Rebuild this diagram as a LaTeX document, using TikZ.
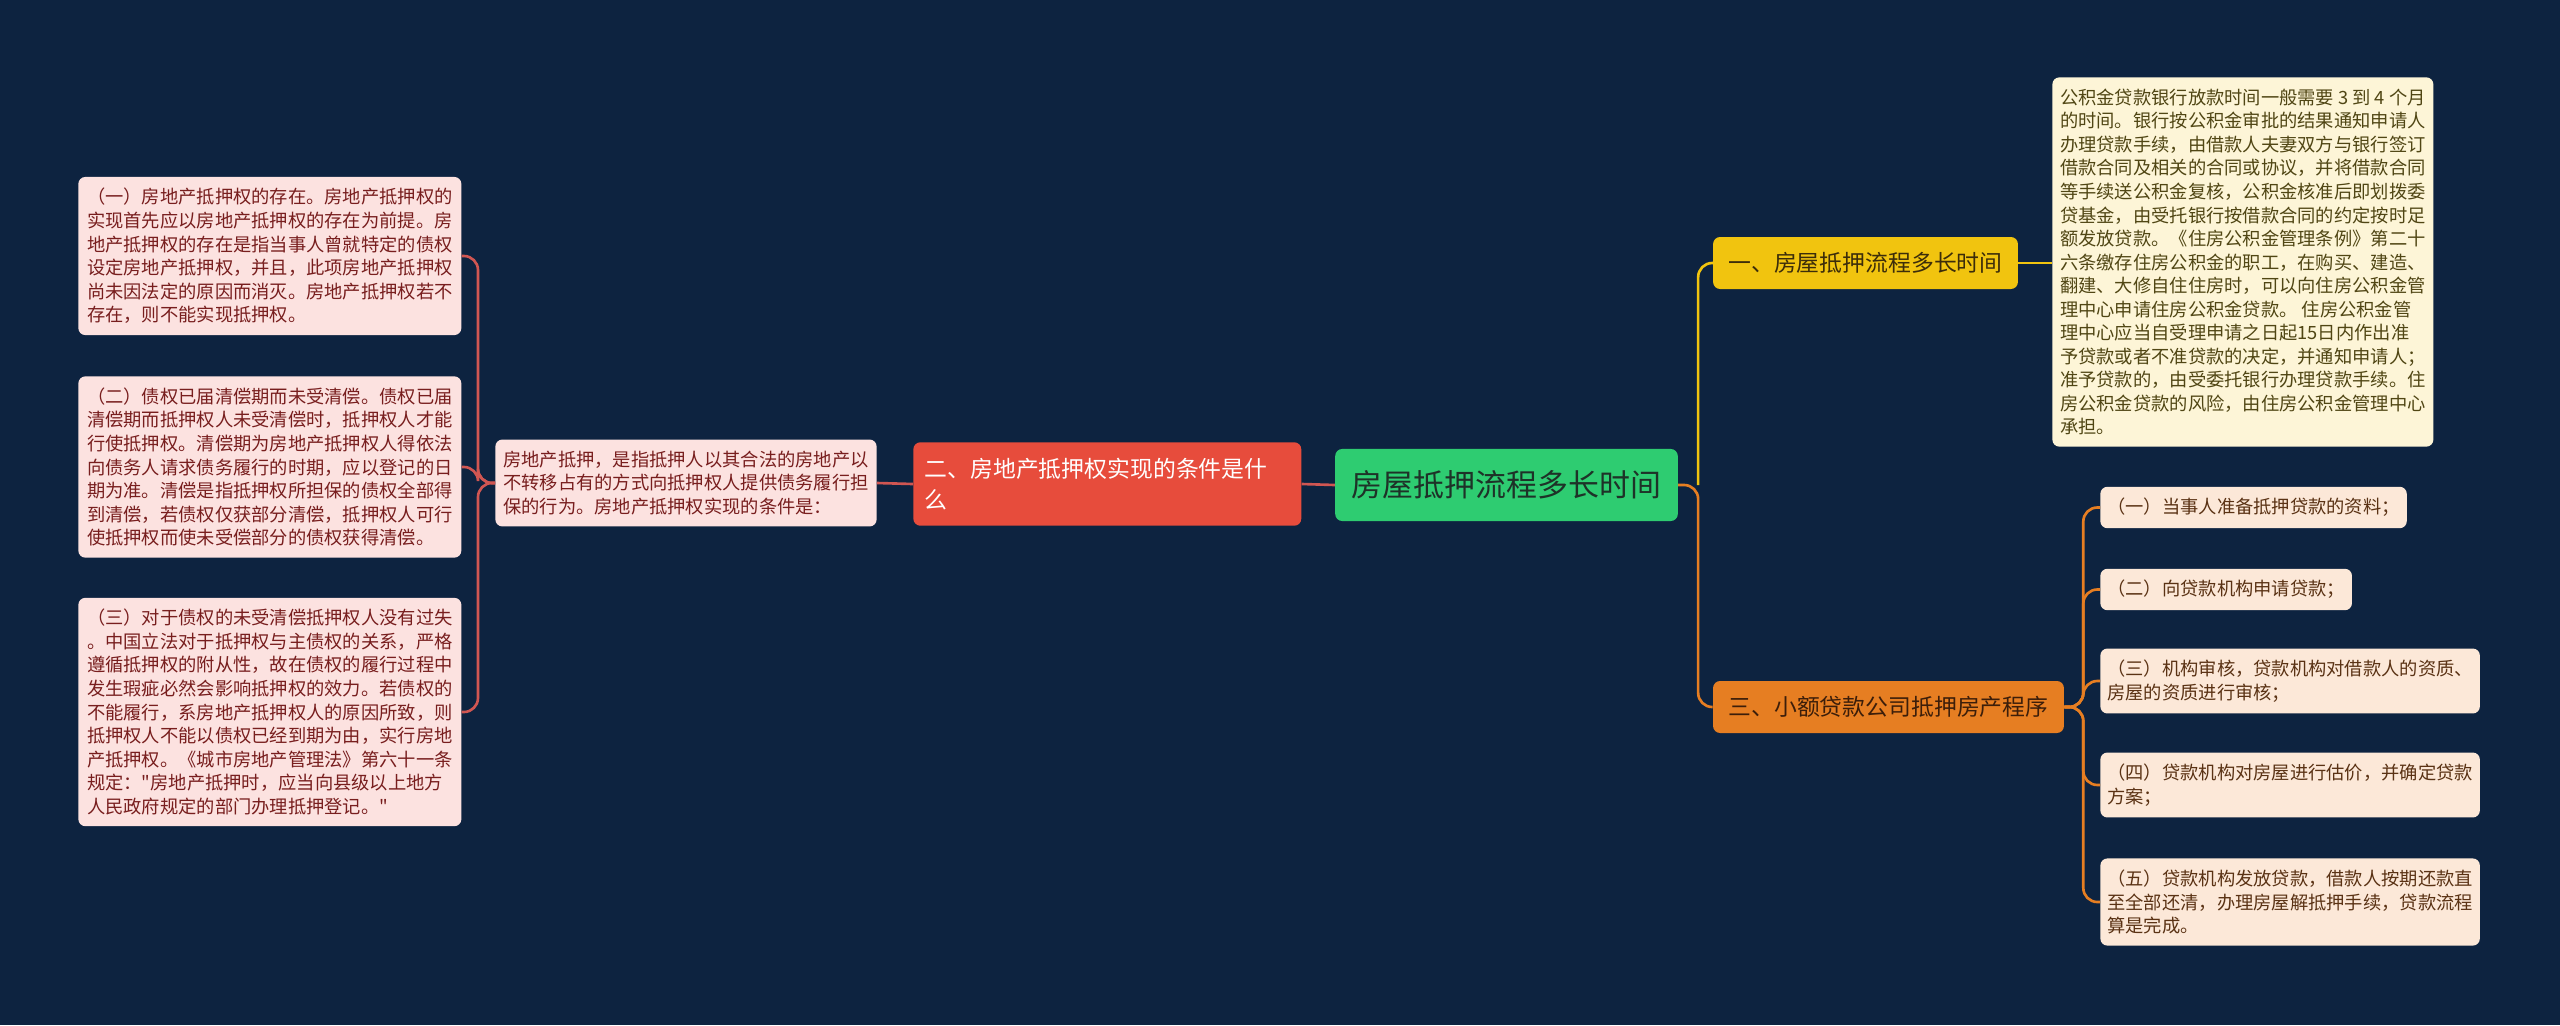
\documentclass[tikz,border=0pt]{standalone}
\usepackage{fontspec}
\setmainfont{Noto Sans CJK SC}[Ligatures=TeXOff]
\usetikzlibrary{positioning}

\definecolor{bgnavy}{RGB}{13,35,64}
\definecolor{rootgreen}{RGB}{46,204,113}
\definecolor{branchred}{RGB}{231,76,60}
\definecolor{linkred}{RGB}{208,86,82}
\definecolor{branchyellow}{RGB}{241,196,15}
\definecolor{branchorange}{RGB}{230,126,34}
\definecolor{pinkfill}{RGB}{252,226,224}
\definecolor{pinktext}{RGB}{120,30,30}
\definecolor{creamfill}{RGB}{253,245,215}
\definecolor{creamtext}{RGB}{80,70,20}
\definecolor{peachfill}{RGB}{252,232,216}
\definecolor{peachtext}{RGB}{90,50,20}

\begin{document}
\begin{tikzpicture}[x=0.02cm,y=-0.02cm,
  leaf/.style={rounded corners=4pt,align=left,anchor=west,inner xsep=5pt,inner ysep=6.5pt,
    font=\fontsize{10.4}{13.4}\selectfont},
  pinkleaf/.style={leaf,fill=pinkfill,text=pinktext},
  creamleaf/.style={leaf,fill=creamfill,text=creamtext,inner xsep=4.4pt},
  peachleaf/.style={leaf,fill=peachfill,text=peachtext,inner xsep=4pt},
  branch/.style={rounded corners=4pt,font=\fontsize{13}{17.6}\selectfont,align=left},
  redline/.style={draw=linkred,line width=1.5pt,rounded corners=8pt},
  yellowline/.style={draw=branchyellow,line width=1.5pt,rounded corners=8pt},
  orangeline/.style={draw=branchorange,line width=1.5pt,rounded corners=8pt}]
\fill[bgnavy] (0,0) rectangle (2560,1025);
\useasboundingbox (0,0) rectangle (2560,1025);

% root
\node[rounded corners=4pt,fill=rootgreen,text={rgb,255:red,30;green,50;blue,40},
  minimum width=195pt,minimum height=41pt,inner sep=0pt,
  font=\fontsize{17.6}{20}\selectfont] (root) at (1506.5,485) {房屋抵押流程多长时间};

% left branch
\node[branch,fill=branchred,text=white,anchor=west,inner xsep=6.5pt,inner ysep=9pt,
  text width=207.8pt] (cond) at (913,484) {二、房地产抵押权实现的条件是什\\么};
\node[pinkleaf,inner xsep=4.5pt] (defn) at (495,483) {房地产抵押，是指抵押人以其合法的房地产以\\不转移占有的方式向抵押权人提供债务履行担\\保的行为。房地产抵押权实现的条件是：};

\node[pinkleaf] (c1) at (78,256) {（一）房地产抵押权的存在。房地产抵押权的\\实现首先应以房地产抵押权的存在为前提。房\\地产抵押权的存在是指当事人曾就特定的债权\\设定房地产抵押权，并且，此项房地产抵押权\\尚未因法定的原因而消灭。房地产抵押权若不\\存在，则不能实现抵押权。};
\node[pinkleaf] (c2) at (78,467) {（二）债权已届清偿期而未受清偿。债权已届\\清偿期而抵押权人未受清偿时，抵押权人才能\\行使抵押权。清偿期为房地产抵押权人得依法\\向债务人请求债务履行的时期，应以登记的日\\期为准。清偿是指抵押权所担保的债权全部得\\到清偿，若债权仅获部分清偿，抵押权人可行\\使抵押权而使未受偿部分的债权获得清偿。};
\node[pinkleaf] (c3) at (78,712) {（三）对于债权的未受清偿抵押权人没有过失\\。中国立法对于抵押权与主债权的关系，严格\\遵循抵押权的附从性，故在债权的履行过程中\\发生瑕疵必然会影响抵押权的效力。若债权的\\不能履行，系房地产抵押权人的原因所致，则\\抵押权人不能以债权已经到期为由，实行房地\\产抵押权。《城市房地产管理法》第六十一条\\规定："房地产抵押时，应当向县级以上地方\\人民政府规定的部门办理抵押登记。"};

% right branches
\node[branch,fill=branchyellow,text={rgb,255:red,60;green,45;blue,10},
  minimum width=173.5pt,minimum height=29.6pt,inner sep=0pt] (time) at (1865.5,263) {一、房屋抵押流程多长时间};
\node[branch,fill=branchorange,text={rgb,255:red,60;green,30;blue,10},
  minimum width=199.7pt,minimum height=29.6pt,inner sep=0pt] (steps) at (1888.5,707) {三、小额贷款公司抵押房产程序};

\node[creamleaf] (fund) at (2052,262) {公积金贷款银行放款时间一般需要 3 到 4 个月\\的时间。银行按公积金审批的结果通知申请人\\办理贷款手续，由借款人夫妻双方与银行签订\\借款合同及相关的合同或协议，并将借款合同\\等手续送公积金复核，公积金核准后即划拨委\\贷基金，由受托银行按借款合同的约定按时足\\额发放贷款。《住房公积金管理条例》第二十\\六条缴存住房公积金的职工，在购买、建造、\\翻建、大修自住住房时，可以向住房公积金管\\理中心申请住房公积金贷款。 住房公积金管\\理中心应当自受理申请之日起15日内作出准\\予贷款或者不准贷款的决定，并通知申请人；\\准予贷款的，由受委托银行办理贷款手续。住\\房公积金贷款的风险，由住房公积金管理中心\\承担。};

\node[peachleaf] (s1) at (2100,507.5) {（一）当事人准备抵押贷款的资料；};
\node[peachleaf] (s2) at (2100,589.5) {（二）向贷款机构申请贷款；};
\node[peachleaf] (s3) at (2100,681) {（三）机构审核，贷款机构对借款人的资质、\\房屋的资质进行审核；};
\node[peachleaf] (s4) at (2100,785) {（四）贷款机构对房屋进行估价，并确定贷款\\方案；};
\node[peachleaf] (s5) at (2100,902) {（五）贷款机构发放贷款，借款人按期还款直\\至全部还清，办理房屋解抵押手续，贷款流程\\算是完成。};

% connectors
\draw[redline] (root.west) -- (cond.east);
\draw[redline] (cond.west) -- (defn.east);
\foreach \c in {c1,c2,c3}
  \draw[redline] (defn.west) -- ++(-17,0) |- (\c.east);
\draw[orangeline] (root.east) -- ++(20,0) |- (steps.west);
\draw[yellowline] (root.east) ++(20,0) |- (time.west);
\draw[yellowline] (time.east) -- (time.east -| fund.west);
\foreach \s in {s1,s2,s3,s4,s5}
  \draw[orangeline] (steps.east) -- ++(19,0) |- (\s.west);
\end{tikzpicture}
\end{document}
